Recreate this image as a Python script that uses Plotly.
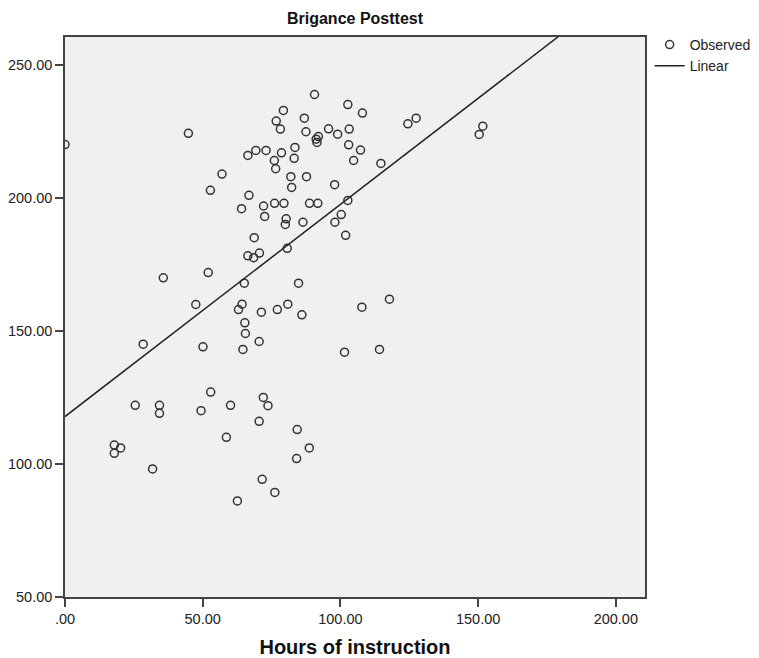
import plotly.graph_objects as go

hours = [0, 44.8, 57, 52.8, 66.4, 69.3, 73, 76.7, 79.3, 78.2,
         90.6, 102.7, 108, 86.9, 87.5, 95.7, 99, 103.2, 91.2, 92,
         91.5, 124.5, 127.5, 78.6, 83.5, 83.2, 76, 76.5, 103, 107.3,
         104.8, 114.7, 82, 87.7, 82.3, 97.9, 66.8, 64.1, 72.1, 76.1,
         79.5, 72.5, 80.3, 80, 86.4, 88.8, 91.8, 102.7, 100.3, 98,
         101.9, 68.7, 80.7, 66.4, 68.5, 70.6, 35.7, 52, 65.1, 84.8,
         47.5, 64.3, 63, 65.3, 65.5, 71.3, 77.1, 80.9, 86, 70.5,
         64.6, 28.4, 50.1, 107.8, 117.8, 101.5, 114.2, 150.4, 151.7, 72,
         73.7, 60.1, 70.5, 58.6, 84.3, 88.7, 84.1, 71.6, 76.2, 25.5,
         34.3, 34.3, 52.9, 49.4, 17.9, 20.2, 17.9, 31.8, 62.6]
posttest = [220, 224.2, 208.9, 202.8, 215.9, 217.8, 217.8, 228.8, 232.8, 225.8,
            238.8, 235, 231.8, 229.9, 224.8, 225.9, 223.9, 225.8, 222, 223,
            220.8, 227.8, 229.9, 216.9, 218.9, 214.8, 214, 210.9, 219.9, 217.9,
            214, 212.9, 207.9, 207.9, 203.9, 204.9, 200.9, 195.9, 196.9, 197.9,
            197.9, 193, 192.1, 190, 190.8, 197.9, 197.9, 199, 193.7, 190.8,
            185.9, 185, 181, 178.2, 177.5, 179.2, 169.9, 171.9, 167.9, 167.9,
            159.9, 160, 158, 153, 149, 157, 158, 160, 156, 146,
            143, 145, 144, 158.9, 161.9, 142, 143, 223.8, 226.9, 125,
            121.9, 122, 116, 110, 112.9, 106, 102, 94.2, 89.3, 122,
            122, 119, 127, 120, 107.1, 106, 104, 98.1, 86.1]

# Linear fit
fit_intercept = 117.8
fit_slope = 0.797
fit_x = [0, 210]
fit_y = [fit_intercept + fit_slope * v for v in fit_x]

x_ticks = [0, 50, 100, 150, 200]
x_ticktext = [".00", "50.00", "100.00", "150.00", "200.00"]
y_ticks = [50, 100, 150, 200, 250]
y_ticktext = ["50.00", "100.00", "150.00", "200.00", "250.00"]

fig = go.Figure()
fig.add_trace(go.Scatter(
    x=hours, y=posttest, mode="markers", name="Observed",
    marker=dict(symbol="circle-open", size=8, color="#333333", line=dict(width=1.5, color="#333333")),
))
fig.add_trace(go.Scatter(
    x=fit_x, y=fit_y, mode="lines", name="Linear",
    line=dict(color="#222222", width=1.5),
))

fig.update_layout(
    width=759, height=658,
    margin=dict(l=65, r=114, t=37, b=61, autoexpand=False),
    paper_bgcolor="white",
    plot_bgcolor="#F0F0F0",
    font=dict(family="Liberation Sans, Arial, sans-serif", size=14.5, color="#222222"),
    title=dict(text="Brigance Posttest", x=0.5, xref="paper", xanchor="center",
               y=1 - 18 / 658, yref="container", yanchor="middle",
               font=dict(size=16, weight="bold", color="#111111")),
    showlegend=True,
    legend=dict(x=1.008, xanchor="left", y=1.0 + 8 / 560, yanchor="top",
                font=dict(size=14, color="#222222"), itemwidth=30,
                bgcolor="rgba(0,0,0,0)", tracegroupgap=0),
    xaxis=dict(range=[0, 210.6], tickvals=x_ticks, ticktext=x_ticktext,
               showgrid=False, zeroline=False, showline=True, mirror=True,
               linecolor="#444444", linewidth=1.5, ticks="outside", ticklen=8,
               tickcolor="#444444", tickwidth=1.5, automargin=False,
               title=dict(text="Hours of instruction", standoff=14,
                          font=dict(size=20, weight="bold", color="#111111"))),
    yaxis=dict(range=[50, 260.4], tickvals=y_ticks, ticktext=y_ticktext,
               showgrid=False, zeroline=False, showline=True, mirror=True,
               linecolor="#444444", linewidth=1.5, ticks="outside", ticklen=8,
               tickcolor="#444444", tickwidth=1.5, automargin=False),
)

fig.write_html("out.html")
